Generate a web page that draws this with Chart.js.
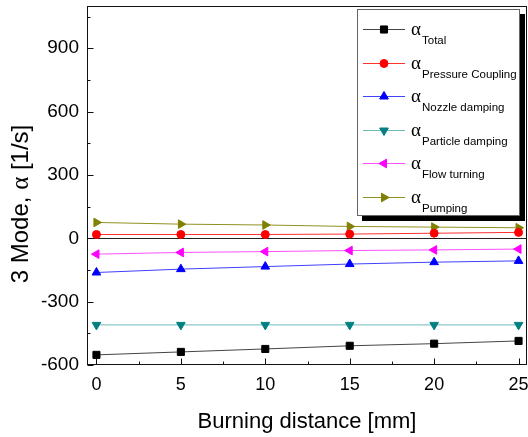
<!DOCTYPE html>
<html>
<head>
<meta charset="utf-8">
<script src="https://cdn.jsdelivr.net/npm/chart.js@4.4.0/dist/chart.umd.min.js"></script>
<style>
  html, body { margin:0; padding:0; background:#fff; }
  #wrap { width:528px; height:437px; }
</style>
</head>
<body>
<div id="wrap"><canvas id="chart" width="528" height="437"></canvas></div>
<script>
// burning distance [mm]
const distance = [0, 5, 10, 15, 20, 25];

// growth rates of the 3rd mode [1/s]
const alphaTotal    = [-552, -538, -524, -509, -499, -486];
const alphaPressure = [18, 18, 18, 20, 24, 28];
const alphaNozzle   = [-162, -146, -134, -122, -113, -107];
const alphaParticle = [-410, -410, -410, -410, -410, -410];
const alphaFlow     = [-75, -67, -63, -58, -55, -51];
const alphaPumping  = [75, 67, 63, 56, 53, 50];

const legendSubs = ['Total', 'Pressure Coupling', 'Nozzle damping', 'Particle damping', 'Flow turning', 'Pumping'];

// ticks (major + minor)
const xTickValues = [0, 2.5, 5, 7.5, 10, 12.5, 15, 17.5, 20, 22.5, 25];
const yTickValues = [-600, -450, -300, -150, 0, 150, 300, 450, 600, 750, 900, 1050];

const SANS = '"Liberation Sans", Arial, sans-serif';
const SERIF = '"Liberation Serif", "Times New Roman", serif';

const pts = arr => arr.map((v, i) => ({ x: distance[i], y: v }));

function series(values, color, lineColor, style, rotation, radius){
  return {
    data: pts(values),
    borderColor: lineColor,
    backgroundColor: color,
    borderWidth: 1,
    pointStyle: style,
    pointRotation: rotation,
    pointRadius: radius,
    pointBackgroundColor: color,
    pointBorderColor: color,
    pointBorderWidth: 1,
    tension: 0
  };
}

const datasets = [
  series(alphaTotal,    '#000000', '#444444', 'rect', 0, 5),
  series(alphaPressure, '#ff0000', '#ff3030', 'circle', 0, 4),
  series(alphaNozzle,   '#0000ff', '#4040ff', 'triangle', 0, 5),
  series(alphaParticle, '#008080', '#70b8b8', 'triangle', 180, 5),
  series(alphaFlow,     '#ff00ff', '#ff50ff', 'triangle', 270, 5),
  series(alphaPumping,  '#808000', '#909020', 'triangle', 90, 5)
];

// drop the label overhang so the plot box sits where the layout says
const noOverhang = s => { s.paddingTop = 0; s.paddingBottom = 0; s.paddingLeft = 0; s.paddingRight = 0; };

// box, zero line, inward ticks, legend and axis titles
const decor = {
  id: 'decor',
  beforeDatasetsDraw(chart){
    const { ctx, chartArea: a, scales: { y } } = chart;
    const y0 = Math.round(y.getPixelForValue(0)) + 0.5;
    ctx.save();
    ctx.strokeStyle = '#222';
    ctx.lineWidth = 1;
    ctx.beginPath();
    ctx.moveTo(a.left, y0); ctx.lineTo(a.right, y0);
    ctx.stroke();
    ctx.restore();
  },
  afterDatasetsDraw(chart){
    const { ctx, chartArea: a, scales: { x, y } } = chart;
    ctx.save();
    ctx.strokeStyle = '#111';
    ctx.lineWidth = 1;
    const L = Math.round(a.left) - 0.5, R = Math.round(a.right) - 0.5;
    const T = Math.round(a.top) + 0.5, B = Math.round(a.bottom) - 0.5;
    ctx.strokeRect(L, T, R - L, B - T);
    ctx.beginPath();
    yTickValues.forEach(v => {
      const py = Math.round(y.getPixelForValue(v)) + 0.5;
      const len = v % 300 === 0 ? 6 : 3;
      ctx.moveTo(L, py); ctx.lineTo(L + len, py);
    });
    xTickValues.forEach(v => {
      const px = Math.round(x.getPixelForValue(v)) + 0.5;
      const len = v % 5 === 0 ? 6 : 3;
      ctx.moveTo(px, B); ctx.lineTo(px, B - len);
    });
    ctx.stroke();
    ctx.restore();
  },
  afterDraw(chart){
    const { ctx } = chart;
    ctx.save();

    // legend box with drop shadow
    const bx = 357, by = 9, bw = 163, bh = 207;
    ctx.fillStyle = '#000';
    ctx.fillRect(bx + 5, by + 5, bw, bh);
    ctx.fillStyle = '#fff';
    ctx.fillRect(bx, by, bw, bh);
    ctx.strokeStyle = '#666';
    ctx.lineWidth = 1;
    ctx.strokeRect(bx + 0.5, by + 0.5, bw - 1, bh - 1);

    chart.data.datasets.forEach((ds, i) => {
      const cy = Math.round(29 + i * 33.6) + 0.5;
      ctx.strokeStyle = ds.borderColor;
      ctx.lineWidth = 1;
      ctx.beginPath();
      ctx.moveTo(363, cy); ctx.lineTo(405, cy);
      ctx.stroke();
      ctx.fillStyle = ds.pointBackgroundColor;
      ctx.strokeStyle = ds.pointBorderColor;
      Chart.helpers.drawPoint(ctx, {
        pointStyle: ds.pointStyle, radius: ds.pointRadius,
        rotation: ds.pointRotation, borderWidth: 1
      }, 384, cy);

      ctx.fillStyle = '#000';
      ctx.textAlign = 'left';
      ctx.textBaseline = 'alphabetic';
      ctx.font = '19px ' + SERIF;
      ctx.fillText('\u03B1', 411, cy + 5);
      ctx.font = '11.5px ' + SANS;
      ctx.fillText(legendSubs[i], 422, cy + 14);
    });

    // axis titles
    ctx.fillStyle = '#000';
    ctx.font = '22px ' + SANS;
    ctx.textAlign = 'center';
    ctx.textBaseline = 'alphabetic';
    ctx.fillText('Burning distance [mm]', 307, 428);

    ctx.translate(28, 204);
    ctx.rotate(-Math.PI / 2);
    const parts = [
      { t: '3 Mode, ', f: '24px ' + SANS },
      { t: '\u03B1', f: '25px ' + SERIF },
      { t: ' [1/s]', f: '24px ' + SANS }
    ];
    let total = 0;
    parts.forEach(p => { ctx.font = p.f; p.w = ctx.measureText(p.t).width; total += p.w; });
    let cx = -total / 2;
    ctx.textAlign = 'left';
    parts.forEach(p => { ctx.font = p.f; ctx.fillText(p.t, cx, 0); cx += p.w; });

    ctx.restore();
  }
};

new Chart(document.getElementById('chart'), {
  type: 'line',
  data: { datasets },
  options: {
    responsive: false,
    animation: false,
    devicePixelRatio: 1,
    layout: { autoPadding: false, padding: { top: 6, right: 1, left: 0, bottom: 0 } },
    plugins: { legend: { display: false }, tooltip: { enabled: false } },
    scales: {
      x: {
        type: 'linear', min: -0.5, max: 25.5,
        grid: { display: false, drawTicks: false }, border: { display: false },
        afterBuildTicks: s => { s.ticks = xTickValues.map(v => ({ value: v })); },
        afterFit: s => { s.height = 72; noOverhang(s); },
        ticks: {
          autoSkip: false, maxRotation: 0, padding: 9, color: '#000',
          font: { family: SANS, size: 18 },
          callback: v => (v % 5 === 0 ? String(v) : '')
        }
      },
      y: {
        type: 'linear', min: -600, max: 1100,
        grid: { display: false, drawTicks: false }, border: { display: false },
        afterBuildTicks: s => { s.ticks = yTickValues.map(v => ({ value: v })); },
        afterFit: s => { s.width = 88; noOverhang(s); },
        ticks: {
          autoSkip: false, padding: 9, color: '#000',
          font: { family: SANS, size: 19 },
          callback: v => (v % 300 === 0 ? String(v) : '')
        }
      }
    }
  },
  plugins: [decor]
});
</script>
</body>
</html>
